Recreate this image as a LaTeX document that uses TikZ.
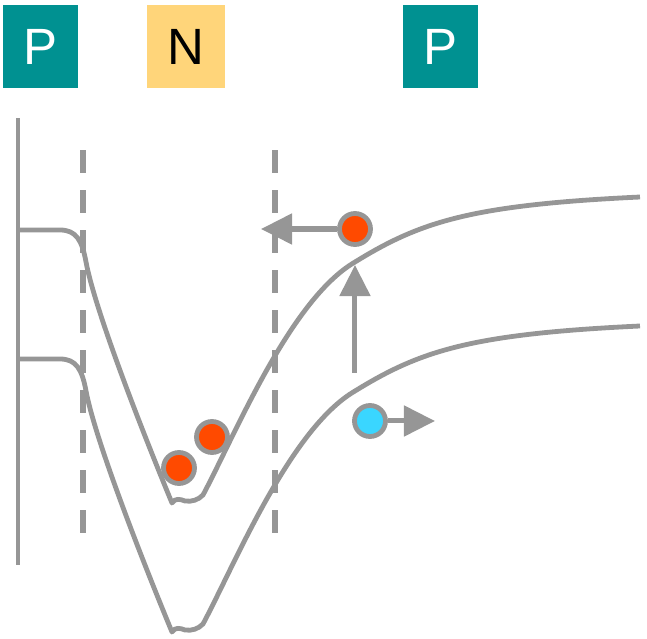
\documentclass[tikz,border=0pt]{standalone}
\usepackage{fontspec}
\setmainfont{Liberation Sans}
\usetikzlibrary{arrows.meta}
\definecolor{teal}{RGB}{0,145,145}
\definecolor{sand}{RGB}{255,213,122}
\definecolor{lgray}{RGB}{150,150,150}
\definecolor{hole}{RGB}{255,74,0}
\definecolor{elec}{RGB}{58,214,255}
\begin{document}
\begin{tikzpicture}[
  x=0.01cm, y=-0.01cm,
  region/.style={minimum height=0.83cm, inner sep=0pt, font=\fontsize{14.5}{16}\selectfont},
  band/.style={draw=lgray, line width=0.048cm, line join=round},
  edge/.style={draw=lgray, line width=0.055cm, dash pattern=on 0.23cm off 0.17cm},
  carrier/.style={circle, draw=lgray, line width=0.048cm, minimum size=0.31cm, inner sep=0pt},
  move/.style={draw=lgray, line width=0.05cm, -{Triangle[length=0.31cm, width=0.3cm]}}
]
\useasboundingbox (0,0) rectangle (647,639);

\node[region, fill=teal, text=white, minimum width=0.75cm] (p1) at (40.5,46.5) {P};
\node[region, fill=sand, minimum width=0.78cm]             (n)  at (186,46.5)  {N};
\node[region, fill=teal, text=white, minimum width=0.75cm] (p2) at (440.5,46.5) {P};

% axis and junction edges
\draw[band] (18,118) -- (18,565);
\draw[edge] (83,150) -- (83,533);
\draw[edge] (275,150) -- (275,533);

% conduction and valence bands
\foreach \dy in {0,129} {
  \draw[band, shift={(0,\dy)}] (18,230) -- (60,230) .. controls (76,230) and (82,240) .. (86,262)
    .. controls (96,315) and (150,450) .. (172,503)
    .. controls (175,498) and (180,499) .. (185,501)
    .. controls (192,502) and (198,500) .. (203,495)
    .. controls (235,435) and (290,300) .. (355,262)
    .. controls (420,222) and (470,205) .. (640,197);
}

\node[carrier, fill=hole] (h1) at (179,468) {};
\node[carrier, fill=hole] (h2) at (212,437) {};
\node[carrier, fill=hole] (h3) at (355,229) {};
\node[carrier, fill=elec] (e1) at (370,421) {};

\coordinate (leftend)  at (261,229);
\coordinate (rightend) at (435,421);
\coordinate (gapbot)   at (355,373);
\coordinate (gaptop)   at (355,265);

\draw[move] (h3.west) -- (leftend);
\draw[move] (e1.east) -- (rightend);
\draw[move] (gapbot) -- (gaptop);
\end{tikzpicture}
\end{document}
